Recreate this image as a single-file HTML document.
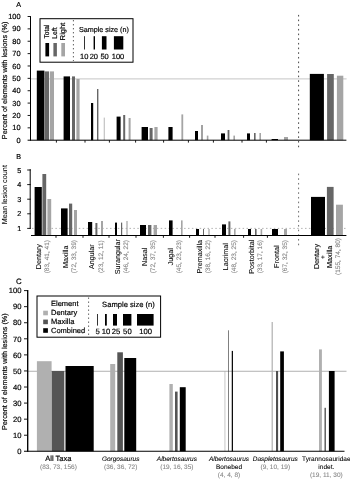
<!DOCTYPE html>
<html lang="en"><head><meta charset="utf-8"><title>Figure</title>
<style>
html,body{margin:0;padding:0;background:#fff;}
body{width:350px;height:479px;overflow:hidden;}
svg{display:block;} text{paint-order:stroke;} svg{text-rendering:geometricPrecision;font-family:"Liberation Sans",sans-serif;}
</style></head><body>
<svg width="350" height="479" viewBox="0 0 350 479">
<rect width="350" height="479" fill="#fff"/>
<text x="16.20" y="6.80" font-size="7.2" text-anchor="start" fill="#000" stroke="#000" stroke-width="0.18">A</text>
<line x1="31.00" y1="78.90" x2="346.60" y2="78.90" stroke="#bcbcbc" stroke-width="0.85" />
<rect x="36.80" y="70.60" width="7.60" height="69.60" fill="#000"/>
<rect x="44.60" y="71.40" width="4.40" height="68.80" fill="#666666"/>
<rect x="49.80" y="71.40" width="4.20" height="68.80" fill="#a5a5a5"/>
<rect x="63.60" y="76.40" width="6.40" height="63.80" fill="#000"/>
<rect x="72.00" y="76.40" width="3.00" height="63.80" fill="#666666"/>
<rect x="76.40" y="79.00" width="3.20" height="61.20" fill="#a5a5a5"/>
<rect x="91.00" y="103.00" width="2.20" height="37.20" fill="#000"/>
<rect x="97.00" y="89.00" width="1.40" height="51.20" fill="#666666"/>
<rect x="103.80" y="117.60" width="0.80" height="22.60" fill="#a5a5a5"/>
<rect x="116.60" y="116.60" width="4.00" height="23.60" fill="#000"/>
<rect x="123.20" y="115.00" width="2.00" height="25.20" fill="#666666"/>
<rect x="128.60" y="118.00" width="2.00" height="22.20" fill="#a5a5a5"/>
<rect x="141.60" y="127.00" width="6.40" height="13.20" fill="#000"/>
<rect x="149.60" y="128.00" width="3.00" height="12.20" fill="#666666"/>
<rect x="154.40" y="127.00" width="3.20" height="13.20" fill="#a5a5a5"/>
<rect x="168.40" y="127.00" width="4.20" height="13.20" fill="#000"/>
<rect x="181.40" y="114.40" width="1.80" height="25.80" fill="#a5a5a5"/>
<rect x="195.00" y="131.00" width="3.00" height="9.20" fill="#000"/>
<rect x="201.40" y="125.00" width="1.20" height="15.20" fill="#666666"/>
<rect x="206.80" y="135.60" width="1.60" height="4.60" fill="#a5a5a5"/>
<rect x="221.00" y="133.40" width="4.00" height="6.80" fill="#000"/>
<rect x="227.60" y="130.00" width="1.80" height="10.20" fill="#666666"/>
<rect x="233.40" y="135.60" width="1.60" height="4.60" fill="#a5a5a5"/>
<rect x="247.00" y="133.40" width="3.00" height="6.80" fill="#000"/>
<rect x="254.00" y="133.00" width="1.60" height="7.20" fill="#666666"/>
<rect x="259.40" y="133.00" width="1.60" height="7.20" fill="#a5a5a5"/>
<rect x="271.60" y="139.00" width="6.40" height="1.20" fill="#000"/>
<rect x="284.00" y="137.00" width="4.00" height="3.20" fill="#a5a5a5"/>
<rect x="309.80" y="73.90" width="14.10" height="66.30" fill="#000"/>
<rect x="327.10" y="74.00" width="6.70" height="66.20" fill="#666666"/>
<rect x="336.90" y="75.70" width="6.40" height="64.50" fill="#a5a5a5"/>
<line x1="30.50" y1="16.10" x2="30.50" y2="140.70" stroke="#000" stroke-width="1" />
<line x1="27.60" y1="140.20" x2="346.40" y2="140.20" stroke="#000" stroke-width="1" />
<text x="20.60" y="142.80" font-size="7.4" text-anchor="end" fill="#000" stroke="#000" stroke-width="0.18">0</text>
<line x1="27.60" y1="127.83" x2="30.50" y2="127.83" stroke="#000" stroke-width="0.9" />
<text x="20.60" y="130.43" font-size="7.4" text-anchor="end" fill="#000" stroke="#000" stroke-width="0.18">10</text>
<line x1="27.60" y1="115.46" x2="30.50" y2="115.46" stroke="#000" stroke-width="0.9" />
<text x="20.60" y="118.06" font-size="7.4" text-anchor="end" fill="#000" stroke="#000" stroke-width="0.18">20</text>
<line x1="27.60" y1="103.09" x2="30.50" y2="103.09" stroke="#000" stroke-width="0.9" />
<text x="20.60" y="105.69" font-size="7.4" text-anchor="end" fill="#000" stroke="#000" stroke-width="0.18">30</text>
<line x1="27.60" y1="90.72" x2="30.50" y2="90.72" stroke="#000" stroke-width="0.9" />
<text x="20.60" y="93.32" font-size="7.4" text-anchor="end" fill="#000" stroke="#000" stroke-width="0.18">40</text>
<line x1="27.60" y1="78.35" x2="30.50" y2="78.35" stroke="#000" stroke-width="0.9" />
<text x="20.60" y="80.95" font-size="7.4" text-anchor="end" fill="#000" stroke="#000" stroke-width="0.18">50</text>
<line x1="27.60" y1="65.98" x2="30.50" y2="65.98" stroke="#000" stroke-width="0.9" />
<text x="20.60" y="68.58" font-size="7.4" text-anchor="end" fill="#000" stroke="#000" stroke-width="0.18">60</text>
<line x1="27.60" y1="53.61" x2="30.50" y2="53.61" stroke="#000" stroke-width="0.9" />
<text x="20.60" y="56.21" font-size="7.4" text-anchor="end" fill="#000" stroke="#000" stroke-width="0.18">70</text>
<line x1="27.60" y1="41.24" x2="30.50" y2="41.24" stroke="#000" stroke-width="0.9" />
<text x="20.60" y="43.84" font-size="7.4" text-anchor="end" fill="#000" stroke="#000" stroke-width="0.18">80</text>
<line x1="27.60" y1="28.87" x2="30.50" y2="28.87" stroke="#000" stroke-width="0.9" />
<text x="20.60" y="31.47" font-size="7.4" text-anchor="end" fill="#000" stroke="#000" stroke-width="0.18">90</text>
<line x1="27.60" y1="16.50" x2="30.50" y2="16.50" stroke="#000" stroke-width="0.9" />
<text x="20.60" y="19.10" font-size="7.4" text-anchor="end" fill="#000" stroke="#000" stroke-width="0.18">100</text>
<line x1="56.40" y1="140.20" x2="56.40" y2="142.60" stroke="#000" stroke-width="0.9" />
<line x1="85.00" y1="140.20" x2="85.00" y2="142.60" stroke="#000" stroke-width="0.9" />
<line x1="109.40" y1="140.20" x2="109.40" y2="142.60" stroke="#000" stroke-width="0.9" />
<line x1="135.60" y1="140.20" x2="135.60" y2="142.60" stroke="#000" stroke-width="0.9" />
<line x1="163.60" y1="140.20" x2="163.60" y2="142.60" stroke="#000" stroke-width="0.9" />
<line x1="188.40" y1="140.20" x2="188.40" y2="142.60" stroke="#000" stroke-width="0.9" />
<line x1="213.40" y1="140.20" x2="213.40" y2="142.60" stroke="#000" stroke-width="0.9" />
<line x1="242.00" y1="140.20" x2="242.00" y2="142.60" stroke="#000" stroke-width="0.9" />
<line x1="266.40" y1="140.20" x2="266.40" y2="142.60" stroke="#000" stroke-width="0.9" />
<text x="6.70" y="80.40" font-size="7.28" text-anchor="middle" fill="#000" stroke="#000" transform="rotate(-90 6.70 80.40)" stroke-width="0.18">Percent of elements with lesions (%)</text>
<line x1="298.60" y1="14.90" x2="298.60" y2="147.60" stroke="#333" stroke-width="0.9" stroke-dasharray="1.6 3.07"/>
<line x1="298.60" y1="173.60" x2="298.60" y2="245.60" stroke="#555" stroke-width="0.85" stroke-dasharray="1.6 3.07"/>
<rect x="40" y="18.7" width="93" height="43.5" fill="#fff" stroke="#000" stroke-width="1"/>
<rect x="45.40" y="43.00" width="3.70" height="13.40" fill="#000"/>
<text x="49.00" y="38.50" font-size="7.1" text-anchor="start" fill="#000" stroke="#000" transform="rotate(-90 49.00 38.50)" textLength="14.00" lengthAdjust="spacingAndGlyphs" stroke-width="0.18">Total</text>
<rect x="53.40" y="43.00" width="3.50" height="13.40" fill="#666666"/>
<text x="56.60" y="38.70" font-size="7.1" text-anchor="start" fill="#000" stroke="#000" transform="rotate(-90 56.60 38.70)" textLength="11.50" lengthAdjust="spacingAndGlyphs" stroke-width="0.18">Left</text>
<rect x="61.30" y="43.00" width="3.70" height="13.40" fill="#a5a5a5"/>
<text x="64.60" y="40.40" font-size="7.1" text-anchor="start" fill="#000" stroke="#000" transform="rotate(-90 64.60 40.40)" textLength="17.90" lengthAdjust="spacingAndGlyphs" stroke-width="0.18">Right</text>
<line x1="73.40" y1="20.00" x2="73.40" y2="61.00" stroke="#333" stroke-width="0.8" stroke-dasharray="1.4 2.6"/>
<text x="103.90" y="31.60" font-size="7.2" text-anchor="middle" fill="#000" stroke="#000" stroke-width="0.18">Sample size (n)</text>
<rect x="84.20" y="36.20" width="0.80" height="13.30" fill="#000"/>
<text x="84.20" y="58.60" font-size="7.5" text-anchor="middle" fill="#000" stroke="#000" stroke-width="0.18">10</text>
<rect x="93.60" y="36.20" width="1.40" height="13.30" fill="#000"/>
<text x="93.80" y="58.60" font-size="7.5" text-anchor="middle" fill="#000" stroke="#000" stroke-width="0.18">20</text>
<rect x="101.90" y="36.20" width="4.60" height="13.30" fill="#000"/>
<text x="104.60" y="58.60" font-size="7.5" text-anchor="middle" fill="#000" stroke="#000" stroke-width="0.18">50</text>
<rect x="113.90" y="36.20" width="9.40" height="13.30" fill="#000"/>
<text x="118.00" y="58.60" font-size="7.5" text-anchor="middle" fill="#000" stroke="#000" stroke-width="0.18">100</text>
<text x="16.20" y="158.80" font-size="7.2" text-anchor="start" fill="#000" stroke="#000" stroke-width="0.18">B</text>
<line x1="32.00" y1="228.40" x2="346.50" y2="228.40" stroke="#a0a0a0" stroke-width="0.8" stroke-dasharray="1.5 2.4"/>
<rect x="34.60" y="187.00" width="7.20" height="48.40" fill="#000"/>
<rect x="42.40" y="174.00" width="3.80" height="61.40" fill="#666666"/>
<rect x="47.40" y="199.00" width="3.80" height="36.40" fill="#a5a5a5"/>
<rect x="61.00" y="208.40" width="6.60" height="27.00" fill="#000"/>
<rect x="69.00" y="203.60" width="3.20" height="31.80" fill="#666666"/>
<rect x="74.00" y="210.00" width="3.00" height="25.40" fill="#a5a5a5"/>
<rect x="88.00" y="222.00" width="4.20" height="13.40" fill="#000"/>
<rect x="95.40" y="223.00" width="2.00" height="12.40" fill="#666666"/>
<rect x="101.00" y="221.00" width="2.00" height="14.40" fill="#a5a5a5"/>
<rect x="115.00" y="222.60" width="2.00" height="12.80" fill="#000"/>
<rect x="121.00" y="222.60" width="1.20" height="12.80" fill="#666666"/>
<rect x="126.40" y="221.00" width="1.20" height="14.40" fill="#a5a5a5"/>
<rect x="140.00" y="225.00" width="6.00" height="10.40" fill="#000"/>
<rect x="148.00" y="225.00" width="3.40" height="10.40" fill="#666666"/>
<rect x="153.60" y="225.00" width="3.40" height="10.40" fill="#a5a5a5"/>
<rect x="169.00" y="220.40" width="3.60" height="15.00" fill="#000"/>
<rect x="181.00" y="220.40" width="1.60" height="15.00" fill="#a5a5a5"/>
<rect x="196.00" y="229.00" width="3.00" height="6.40" fill="#000"/>
<rect x="203.00" y="229.00" width="1.00" height="6.40" fill="#666666"/>
<rect x="208.40" y="229.00" width="1.20" height="6.40" fill="#a5a5a5"/>
<rect x="222.00" y="224.40" width="4.00" height="11.00" fill="#000"/>
<rect x="228.40" y="221.40" width="2.00" height="14.00" fill="#666666"/>
<rect x="234.00" y="229.00" width="1.60" height="6.40" fill="#a5a5a5"/>
<rect x="248.00" y="229.00" width="3.00" height="6.40" fill="#000"/>
<rect x="255.00" y="229.00" width="1.60" height="6.40" fill="#666666"/>
<rect x="260.60" y="229.00" width="1.60" height="6.40" fill="#a5a5a5"/>
<rect x="272.00" y="229.00" width="6.00" height="6.40" fill="#000"/>
<rect x="284.00" y="229.00" width="3.00" height="6.40" fill="#a5a5a5"/>
<rect x="311.00" y="196.90" width="14.00" height="38.50" fill="#000"/>
<rect x="326.90" y="186.90" width="6.70" height="48.50" fill="#666666"/>
<rect x="336.00" y="204.70" width="6.90" height="30.70" fill="#a5a5a5"/>
<line x1="30.20" y1="169.20" x2="30.20" y2="228.80" stroke="#000" stroke-width="1" />
<line x1="31.00" y1="235.50" x2="346.40" y2="235.50" stroke="#000" stroke-width="1" />
<line x1="27.20" y1="228.40" x2="30.70" y2="228.40" stroke="#000" stroke-width="0.9" />
<text x="21.20" y="230.95" font-size="7.2" text-anchor="end" fill="#000" stroke="#000" stroke-width="0.18">1</text>
<line x1="27.20" y1="213.80" x2="30.70" y2="213.80" stroke="#000" stroke-width="0.9" />
<text x="21.20" y="216.35" font-size="7.2" text-anchor="end" fill="#000" stroke="#000" stroke-width="0.18">2</text>
<line x1="27.20" y1="199.20" x2="30.70" y2="199.20" stroke="#000" stroke-width="0.9" />
<text x="21.20" y="201.75" font-size="7.2" text-anchor="end" fill="#000" stroke="#000" stroke-width="0.18">3</text>
<line x1="27.20" y1="184.60" x2="30.70" y2="184.60" stroke="#000" stroke-width="0.9" />
<text x="21.20" y="187.15" font-size="7.2" text-anchor="end" fill="#000" stroke="#000" stroke-width="0.18">4</text>
<line x1="27.20" y1="170.00" x2="30.70" y2="170.00" stroke="#000" stroke-width="0.9" />
<text x="21.20" y="172.55" font-size="7.2" text-anchor="end" fill="#000" stroke="#000" stroke-width="0.18">5</text>
<line x1="56.00" y1="235.40" x2="56.00" y2="237.80" stroke="#000" stroke-width="0.9" />
<line x1="83.00" y1="235.40" x2="83.00" y2="237.80" stroke="#000" stroke-width="0.9" />
<line x1="109.00" y1="235.40" x2="109.00" y2="237.80" stroke="#000" stroke-width="0.9" />
<line x1="136.00" y1="235.40" x2="136.00" y2="237.80" stroke="#000" stroke-width="0.9" />
<line x1="163.40" y1="235.40" x2="163.40" y2="237.80" stroke="#000" stroke-width="0.9" />
<line x1="189.60" y1="235.40" x2="189.60" y2="237.80" stroke="#000" stroke-width="0.9" />
<line x1="215.00" y1="235.40" x2="215.00" y2="237.80" stroke="#000" stroke-width="0.9" />
<line x1="243.60" y1="235.40" x2="243.60" y2="237.80" stroke="#000" stroke-width="0.9" />
<line x1="267.40" y1="235.40" x2="267.40" y2="237.80" stroke="#000" stroke-width="0.9" />
<text x="7.00" y="194.70" font-size="7.3" text-anchor="middle" fill="#000" stroke="#000" transform="rotate(-90 7.00 194.70)" stroke-width="0.06">Mean lesion count</text>
<text x="40.70" y="256.70" font-size="7.2" text-anchor="middle" fill="#000" stroke="#000" transform="rotate(-90 40.70 256.70)" stroke-width="0.08">Dentary</text>
<text x="49.10" y="256.70" font-size="6.5" text-anchor="middle" fill="#848484" stroke="#848484" transform="rotate(-90 49.10 256.70)" stroke-width="0.1">(83, 41, 41)</text>
<text x="67.70" y="256.70" font-size="7.2" text-anchor="middle" fill="#000" stroke="#000" transform="rotate(-90 67.70 256.70)" stroke-width="0.08">Maxilla</text>
<text x="76.10" y="256.70" font-size="6.5" text-anchor="middle" fill="#848484" stroke="#848484" transform="rotate(-90 76.10 256.70)" stroke-width="0.1">(72, 33, 39)</text>
<text x="94.30" y="256.70" font-size="7.2" text-anchor="middle" fill="#000" stroke="#000" transform="rotate(-90 94.30 256.70)" stroke-width="0.08">Angular</text>
<text x="102.70" y="256.70" font-size="6.5" text-anchor="middle" fill="#848484" stroke="#848484" transform="rotate(-90 102.70 256.70)" stroke-width="0.1">(23, 12, 11)</text>
<text x="120.10" y="256.70" font-size="7.2" text-anchor="middle" fill="#000" stroke="#000" transform="rotate(-90 120.10 256.70)" stroke-width="0.08">Surangular</text>
<text x="128.50" y="256.70" font-size="6.5" text-anchor="middle" fill="#848484" stroke="#848484" transform="rotate(-90 128.50 256.70)" stroke-width="0.1">(46, 24, 22)</text>
<text x="147.10" y="256.70" font-size="7.2" text-anchor="middle" fill="#000" stroke="#000" transform="rotate(-90 147.10 256.70)" stroke-width="0.08">Nasal</text>
<text x="155.50" y="256.70" font-size="6.5" text-anchor="middle" fill="#848484" stroke="#848484" transform="rotate(-90 155.50 256.70)" stroke-width="0.1">(72, 37, 35)</text>
<text x="173.10" y="256.70" font-size="7.2" text-anchor="middle" fill="#000" stroke="#000" transform="rotate(-90 173.10 256.70)" stroke-width="0.08">Jugal</text>
<text x="181.50" y="256.70" font-size="6.5" text-anchor="middle" fill="#848484" stroke="#848484" transform="rotate(-90 181.50 256.70)" stroke-width="0.1">(45, 23, 23)</text>
<text x="202.10" y="256.70" font-size="7.2" text-anchor="middle" fill="#000" stroke="#000" transform="rotate(-90 202.10 256.70)" stroke-width="0.08">Premaxilla</text>
<text x="210.50" y="256.70" font-size="6.5" text-anchor="middle" fill="#848484" stroke="#848484" transform="rotate(-90 210.50 256.70)" stroke-width="0.1">(38, 16, 22)</text>
<text x="228.10" y="256.70" font-size="7.2" text-anchor="middle" fill="#000" stroke="#000" transform="rotate(-90 228.10 256.70)" stroke-width="0.08">Lacrimal</text>
<text x="236.50" y="256.70" font-size="6.5" text-anchor="middle" fill="#848484" stroke="#848484" transform="rotate(-90 236.50 256.70)" stroke-width="0.1">(48, 23, 25)</text>
<text x="254.10" y="256.70" font-size="7.2" text-anchor="middle" fill="#000" stroke="#000" transform="rotate(-90 254.10 256.70)" stroke-width="0.08">Postorbital</text>
<text x="262.50" y="256.70" font-size="6.5" text-anchor="middle" fill="#848484" stroke="#848484" transform="rotate(-90 262.50 256.70)" stroke-width="0.1">(33, 17, 16)</text>
<text x="279.10" y="256.70" font-size="7.2" text-anchor="middle" fill="#000" stroke="#000" transform="rotate(-90 279.10 256.70)" stroke-width="0.08">Frontal</text>
<text x="287.50" y="256.70" font-size="6.5" text-anchor="middle" fill="#848484" stroke="#848484" transform="rotate(-90 287.50 256.70)" stroke-width="0.1">(67, 32, 35)</text>
<text x="318.50" y="256.50" font-size="7.2" text-anchor="middle" fill="#000" stroke="#000" transform="rotate(-90 318.50 256.50)" stroke-width="0.12">Dentary</text>
<text x="324.80" y="257.00" font-size="6.5" text-anchor="middle" fill="#000" stroke="#000" transform="rotate(-90 324.80 257.00)" stroke-width="0.08">+</text>
<text x="331.90" y="256.80" font-size="7.2" text-anchor="middle" fill="#000" stroke="#000" transform="rotate(-90 331.90 256.80)" stroke-width="0.12">Maxilla</text>
<text x="340.30" y="256.50" font-size="6.5" text-anchor="middle" fill="#848484" stroke="#848484" transform="rotate(-90 340.30 256.50)" stroke-width="0.12">(155, 74, 80)</text>
<text x="15.90" y="283.50" font-size="7.8" text-anchor="start" fill="#000" stroke="#000" stroke-width="0.18">C</text>
<line x1="28.00" y1="371.25" x2="346.50" y2="371.25" stroke="#9c9c9c" stroke-width="0.8" />
<rect x="36.90" y="361.20" width="14.70" height="90.10" fill="#b0b0b0"/>
<rect x="51.70" y="371.00" width="12.60" height="80.30" fill="#555555"/>
<rect x="65.50" y="366.00" width="28.20" height="85.30" fill="#000"/>
<rect x="110.20" y="364.00" width="5.00" height="87.30" fill="#b0b0b0"/>
<rect x="117.30" y="352.30" width="5.60" height="99.00" fill="#555555"/>
<rect x="124.30" y="358.00" width="11.90" height="93.30" fill="#000"/>
<rect x="169.40" y="384.00" width="3.40" height="67.30" fill="#b0b0b0"/>
<rect x="175.00" y="391.60" width="2.60" height="59.70" fill="#555555"/>
<rect x="179.80" y="387.20" width="5.90" height="64.10" fill="#000"/>
<rect x="224.60" y="371.00" width="0.70" height="80.30" fill="#b0b0b0"/>
<rect x="228.10" y="330.30" width="0.65" height="121.00" fill="#3c3c3c"/>
<rect x="231.75" y="350.90" width="1.20" height="100.40" fill="#000"/>
<rect x="271.60" y="322.00" width="1.20" height="129.30" fill="#b0b0b0"/>
<rect x="280.20" y="351.40" width="3.70" height="99.90" fill="#000"/>
<rect x="319.00" y="349.40" width="2.90" height="101.90" fill="#b0b0b0"/>
<rect x="324.50" y="407.80" width="1.40" height="43.50" fill="#555"/>
<rect x="328.90" y="371.00" width="5.70" height="80.30" fill="#000"/>
<rect x="276.00" y="371.00" width="2.10" height="80.30" fill="#505050"/>
<line x1="27.70" y1="290.10" x2="27.70" y2="451.80" stroke="#000" stroke-width="1.35" />
<line x1="24.00" y1="451.30" x2="344.50" y2="451.30" stroke="#000" stroke-width="1.1" />
<text x="21.50" y="454.05" font-size="7.6" text-anchor="end" fill="#000" stroke="#000" stroke-width="0.18">0</text>
<line x1="24.00" y1="435.23" x2="27.40" y2="435.23" stroke="#000" stroke-width="0.9" />
<text x="21.50" y="437.98" font-size="7.6" text-anchor="end" fill="#000" stroke="#000" stroke-width="0.18">10</text>
<line x1="24.00" y1="419.16" x2="27.40" y2="419.16" stroke="#000" stroke-width="0.9" />
<text x="21.50" y="421.91" font-size="7.6" text-anchor="end" fill="#000" stroke="#000" stroke-width="0.18">20</text>
<line x1="24.00" y1="403.09" x2="27.40" y2="403.09" stroke="#000" stroke-width="0.9" />
<text x="21.50" y="405.84" font-size="7.6" text-anchor="end" fill="#000" stroke="#000" stroke-width="0.18">30</text>
<line x1="24.00" y1="387.02" x2="27.40" y2="387.02" stroke="#000" stroke-width="0.9" />
<text x="21.50" y="389.77" font-size="7.6" text-anchor="end" fill="#000" stroke="#000" stroke-width="0.18">40</text>
<line x1="24.00" y1="370.95" x2="27.40" y2="370.95" stroke="#000" stroke-width="0.9" />
<text x="21.50" y="373.70" font-size="7.6" text-anchor="end" fill="#000" stroke="#000" stroke-width="0.18">50</text>
<line x1="24.00" y1="354.88" x2="27.40" y2="354.88" stroke="#000" stroke-width="0.9" />
<text x="21.50" y="357.63" font-size="7.6" text-anchor="end" fill="#000" stroke="#000" stroke-width="0.18">60</text>
<line x1="24.00" y1="338.81" x2="27.40" y2="338.81" stroke="#000" stroke-width="0.9" />
<text x="21.50" y="341.56" font-size="7.6" text-anchor="end" fill="#000" stroke="#000" stroke-width="0.18">70</text>
<line x1="24.00" y1="322.74" x2="27.40" y2="322.74" stroke="#000" stroke-width="0.9" />
<text x="21.50" y="325.49" font-size="7.6" text-anchor="end" fill="#000" stroke="#000" stroke-width="0.18">80</text>
<line x1="24.00" y1="306.67" x2="27.40" y2="306.67" stroke="#000" stroke-width="0.9" />
<text x="21.50" y="309.42" font-size="7.6" text-anchor="end" fill="#000" stroke="#000" stroke-width="0.18">90</text>
<line x1="24.00" y1="290.60" x2="27.40" y2="290.60" stroke="#000" stroke-width="0.9" />
<text x="21.50" y="293.35" font-size="7.6" text-anchor="end" fill="#000" stroke="#000" stroke-width="0.18">100</text>
<text x="7.20" y="371.70" font-size="7.22" text-anchor="middle" fill="#000" stroke="#000" transform="rotate(-90 7.20 371.70)" stroke-width="0.18">Percent of elements with lesions (%)</text>
<rect x="37" y="296" width="123.6" height="41.2" fill="#fff" stroke="#000" stroke-width="1"/>
<text x="51.00" y="305.90" font-size="7.5" text-anchor="start" fill="#000" stroke="#000" stroke-width="0.18">Element</text>
<rect x="43.20" y="310.70" width="4.70" height="4.60" fill="#b0b0b0"/>
<text x="51.00" y="314.50" font-size="7.5" text-anchor="start" fill="#000" stroke="#000" stroke-width="0.18">Dentary</text>
<rect x="43.20" y="319.60" width="4.70" height="4.60" fill="#555555"/>
<text x="51.00" y="323.50" font-size="7.5" text-anchor="start" fill="#000" stroke="#000" stroke-width="0.18">Maxilla</text>
<rect x="43.20" y="328.20" width="4.70" height="4.60" fill="#000"/>
<text x="51.00" y="332.50" font-size="7.5" text-anchor="start" fill="#000" stroke="#000" stroke-width="0.18">Combined</text>
<line x1="88.60" y1="297.50" x2="88.60" y2="336.00" stroke="#333" stroke-width="0.8" stroke-dasharray="1.4 2.6"/>
<text x="128.50" y="306.60" font-size="7.6" text-anchor="middle" fill="#000" stroke="#000" stroke-width="0.18">Sample size (n)</text>
<rect x="97.20" y="314.00" width="0.80" height="11.60" fill="#000"/>
<text x="97.60" y="333.90" font-size="7.7" text-anchor="middle" fill="#000" stroke="#000" stroke-width="0.18">5</text>
<rect x="105.00" y="314.00" width="1.80" height="11.60" fill="#000"/>
<text x="106.00" y="333.90" font-size="7.7" text-anchor="middle" fill="#000" stroke="#000" stroke-width="0.18">10</text>
<rect x="113.00" y="314.00" width="4.00" height="11.60" fill="#000"/>
<text x="116.00" y="333.90" font-size="7.7" text-anchor="middle" fill="#000" stroke="#000" stroke-width="0.18">25</text>
<rect x="123.00" y="314.00" width="8.40" height="11.60" fill="#000"/>
<text x="127.40" y="333.90" font-size="7.7" text-anchor="middle" fill="#000" stroke="#000" stroke-width="0.18">50</text>
<rect x="137.00" y="314.00" width="16.60" height="11.60" fill="#000"/>
<text x="145.60" y="333.90" font-size="7.7" text-anchor="middle" fill="#000" stroke="#000" stroke-width="0.18">100</text>
<text x="58.40" y="460.90" font-size="7.5" text-anchor="middle" fill="#000" stroke="#000" stroke-width="0.18">All Taxa</text>
<text x="58.40" y="469.00" font-size="6.5" text-anchor="middle" fill="#848484" stroke="#848484" stroke-width="0.08">(83, 73, 156)</text>
<text x="120.70" y="460.90" font-size="6.5" text-anchor="middle" fill="#000" stroke="#000" font-style="italic" stroke-width="0.08">Gorgosaurus</text>
<text x="120.70" y="469.00" font-size="6.5" text-anchor="middle" fill="#848484" stroke="#848484" stroke-width="0.08">(36, 36, 72)</text>
<text x="176.90" y="460.90" font-size="6.5" text-anchor="middle" fill="#000" stroke="#000" font-style="italic" stroke-width="0.08">Albertosaurus</text>
<text x="176.90" y="469.00" font-size="6.5" text-anchor="middle" fill="#848484" stroke="#848484" stroke-width="0.08">(19, 16, 35)</text>
<text x="229.00" y="460.90" font-size="6.5" text-anchor="middle" fill="#000" stroke="#000" font-style="italic" stroke-width="0.08">Albertosaurus</text>
<text x="229.00" y="469.10" font-size="6.5" text-anchor="middle" fill="#000" stroke="#000" stroke-width="0.08">Bonebed</text>
<text x="229.00" y="477.20" font-size="6.5" text-anchor="middle" fill="#848484" stroke="#848484" stroke-width="0.08">(4, 4, 8)</text>
<text x="275.30" y="460.90" font-size="6.5" text-anchor="middle" fill="#000" stroke="#000" font-style="italic" stroke-width="0.08">Daspletosaurus</text>
<text x="275.30" y="469.00" font-size="6.5" text-anchor="middle" fill="#848484" stroke="#848484" stroke-width="0.08">(9, 10, 19)</text>
<text x="326.30" y="460.90" font-size="6.5" text-anchor="middle" fill="#000" stroke="#000" stroke-width="0.08">Tyrannosauridae</text>
<text x="326.30" y="469.10" font-size="6.5" text-anchor="middle" fill="#000" stroke="#000" stroke-width="0.08">indet.</text>
<text x="326.30" y="477.20" font-size="6.5" text-anchor="middle" fill="#848484" stroke="#848484" stroke-width="0.08">(19, 11, 30)</text>
</svg>
</body></html>
